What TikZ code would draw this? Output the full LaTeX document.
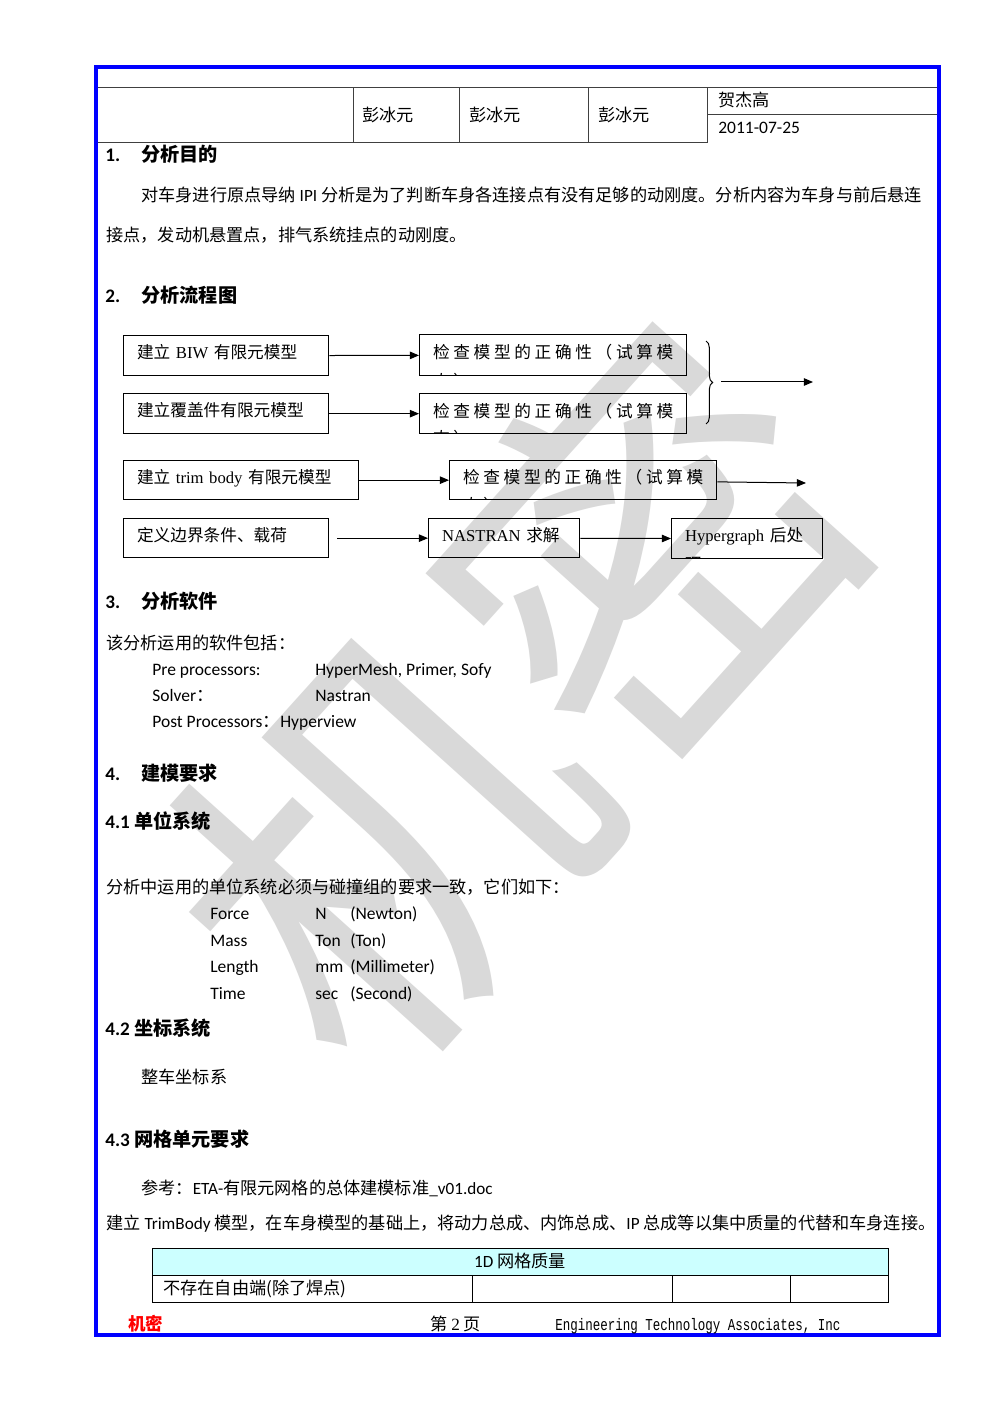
\documentclass[tikz,border=0pt]{standalone}
\usepackage{fontspec}
\setmainfont{Carlito}
\newfontfamily\cjk{Noto Sans CJK SC}
\newfontfamily\tms{Liberation Serif}
\newfontfamily\mono{Liberation Mono}
\usetikzlibrary{arrows.meta,decorations.pathreplacing}

\definecolor{hdrcyan}{HTML}{CCFFFF}
\newcommand\gp{\hspace{2.2pt}}
\newcommand\chkline{检\gp 查\gp 模\gp 型\gp 的\gp 正\gp 确\gp 性\gp （\gp 试\gp 算\gp 模}

\tikzset{
  txt/.style={anchor=base west,inner sep=0pt,font=\cjk\fontsize{10.3}{12}\selectfont},
  lat/.style={anchor=base west,inner sep=0pt,font=\fontsize{10.5}{12}\selectfont},
  headnum/.style={anchor=base west,inner sep=0pt,font=\bfseries\fontsize{11.5}{14}\selectfont},
  headtxt/.style={anchor=base west,inner sep=0pt,font=\cjk\bfseries\fontsize{11.5}{14}\selectfont},
  flowbox/.style={draw,line width=0.8pt,anchor=north west,inner xsep=8pt,inner ysep=0pt,
    text depth=4.5pt,align=left,font=\cjk\fontsize{10}{12}\selectfont},
  cliptext/.style={path picture={\pgftext[left,base,at={\pgfpointadd{\pgfpointanchor{path picture bounding box}{south west}}{\pgfpoint{8pt}{-6.8pt}}}]{\cjk\fontsize{10}{12}\selectfont #1}}},
  flowarrow/.style={line width=0.6pt,-{Triangle[length=5.5pt,width=4.5pt]}},
  rule/.style={line width=0.6pt,draw=black!75}
}

\begin{document}
\begin{tikzpicture}[x=0.6pt,y=-0.6pt]

\fill[white] (0,0) rectangle (992,1403);
\useasboundingbox (0,0) rectangle (992,1403);

% watermark
\node[rotate=48,text=black!15,inner sep=0pt,font=\cjk\fontsize{240}{240}\selectfont] (wm) at (515,695) {机密};

% page frame and header table
\draw[blue,line width=2.4pt] (96,67) rectangle (939,1335);
\draw[rule] (98,88) -- (937,88);
\draw[rule] (98,143) -- (707,143);
\draw[rule] (707,115) -- (937,115);
\foreach \x in {353,459,588,707}
  \draw[rule] (\x,88) -- (\x,143);

\node[txt] (sig1) at (362,122) {彭冰元};
\node[txt] (sig2) at (469,122) {彭冰元};
\node[txt] (sig3) at (598,122) {彭冰元};
\node[txt] (appr) at (718,107) {贺杰高};
\node[lat] (date) at (718,134) {2011-07-25};

% 1.
\node[headnum] (n1) at (105,162) {1.};
\node[headtxt] (h1) at (141,162) {分析目的};
\node[txt] (p1) at (141,202) {对车身进行原点导纳 {\normalfont IPI} 分析是为了判断车身各连接点有没有足够的动刚度。分析内容为车身与前后悬连};
\node[txt] (p2) at (106,242) {接点，发动机悬置点，排气系统挂点的动刚度。};

% 2.
\node[headnum] (n2) at (105,303) {2.};
\node[headtxt] (h2) at (141,303) {分析流程图};

\node[flowbox,text width=107pt,minimum height=24pt] (biw) at (123,335) {建立 {\tms BIW} 有限元模型};
\node[flowbox,text width=144.2pt,minimum height=24.6pt,cliptext={态\gp ）}] (chk1) at (419,334) {\mbox{\chkline}};
\node[flowbox,text width=107pt,minimum height=24pt] (cover) at (123,393) {建立覆盖件有限元模型};
\node[flowbox,text width=144.2pt,minimum height=24pt,cliptext={态\gp ）}] (chk2) at (419,393) {\mbox{\chkline}};
\node[flowbox,text width=125pt,minimum height=23.4pt] (trim) at (123,460) {建立 {\tms trim body} 有限元模型};
\node[flowbox,text width=144.2pt,minimum height=23.4pt,cliptext={态\gp ）}] (chk3) at (449,460) {\mbox{\chkline}};
\node[flowbox,text width=107pt,minimum height=23.4pt] (bc) at (123,518) {定义边界条件、载荷};
\node[flowbox,text width=74.6pt,minimum height=23.4pt] (solve) at (428,518) {{\tms NASTRAN} 求解};
\node[flowbox,text width=74.6pt,minimum height=24pt,cliptext={理}] (post) at (671,518) {\mbox{{\tms Hypergraph} 后处}};

\coordinate (bracetip) at (712,382);
\coordinate (out1) at (813,382);
\coordinate (out2) at (806,483);

\draw[flowarrow] (biw) -- (chk1);
\draw[flowarrow] (cover) -- (chk2);
\draw[flowarrow] (trim) -- (chk3);
\draw[flowarrow] (chk3) -- (out2);
\draw[flowarrow,shorten <=4.8pt] (bc) -- (solve);
\draw[flowarrow] (solve) -- (post);
\draw[line width=0.6pt,decorate,decoration={brace,amplitude=4pt}] (706,341) -- (706,424);
\draw[flowarrow,shorten <=5.4pt] (bracetip) -- (out1);

% 3.
\node[headnum] (n3) at (105,608) {3.};
\node[headtxt] (h3) at (141,608) {分析软件};
\node[txt] (sw) at (106,649) {该分析运用的软件包括：};
\node[lat] (pre) at (152,675) {Pre processors:};
\node[lat] (prev) at (315,675) {HyperMesh, Primer, Sofy};
\node[lat] (sol) at (152,701) {Solver{\cjk ：}};
\node[lat] (solv) at (315,701) {Nastran};
\node[lat] (pst) at (152,727) {Post Processors{\cjk ：}};
\node[lat] (pstv) at (280,727) {Hyperview};

% 4.
\node[headnum] (n4) at (105,780) {4.};
\node[headtxt] (h4) at (141,780) {建模要求};
\node[headnum] (h41) at (105,828) {4.1 {\cjk 单位系统}};
\node[txt] (units) at (106,893) {分析中运用的单位系统必须与碰撞组的要求一致，它们如下：};
\foreach \q/\u/\d [count=\i] in {Force/N/(Newton),Mass/Ton/(Ton),Length/mm/(Millimeter),Time/sec/(Second)}{
  \node[lat] (q\i) at (210,{893+26.5*\i}) {\q};
  \node[lat] (u\i) at (315,{893+26.5*\i}) {\u};
  \node[lat] (d\i) at (350,{893+26.5*\i}) {\d};
}
\node[headnum] (h42) at (105,1035) {4.2 {\cjk 坐标系统}};
\node[txt] (coord) at (141,1083) {整车坐标系};
\node[headnum] (h43) at (105,1146) {4.3 {\cjk 网格单元要求}};
\node[txt] (ref) at (141,1194) {参考：{\normalfont ETA-}有限元网格的总体建模标准{\normalfont \_v01.doc}};
\node[txt] (tb) at (106,1229) {建立 {\normalfont TrimBody} 模型，在车身模型的基础上，将动力总成、内饰总成、{\normalfont IP} 总成等以集中质量的代替和车身连接。};

% mesh quality table
\fill[hdrcyan] (152,1248) rectangle (888,1275);
\draw[rule,draw=black] (152,1248) rectangle (888,1302);
\draw[rule,draw=black] (152,1275) -- (888,1275);
\foreach \x in {472,672,790}
  \draw[rule,draw=black] (\x,1275) -- (\x,1302);
\node[txt,anchor=base] (mq) at (520,1267) {{\normalfont 1D} 网格质量};
\node[txt] (free) at (163,1294) {不存在自由端(除了焊点)};

% footer
\node[txt,text=red,font=\cjk\bfseries\fontsize{10.5}{12}\selectfont] (secret) at (128,1330) {机密};
\node[txt] (pg) at (430,1330) {第 {\tms 2} 页};
\node[anchor=base west,inner sep=0pt] (eta) at (555,1330) {\scalebox{0.75}[1]{\mono\fontsize{10}{12}\selectfont Engineering Technology Associates, Inc}};

\end{tikzpicture}
\end{document}
